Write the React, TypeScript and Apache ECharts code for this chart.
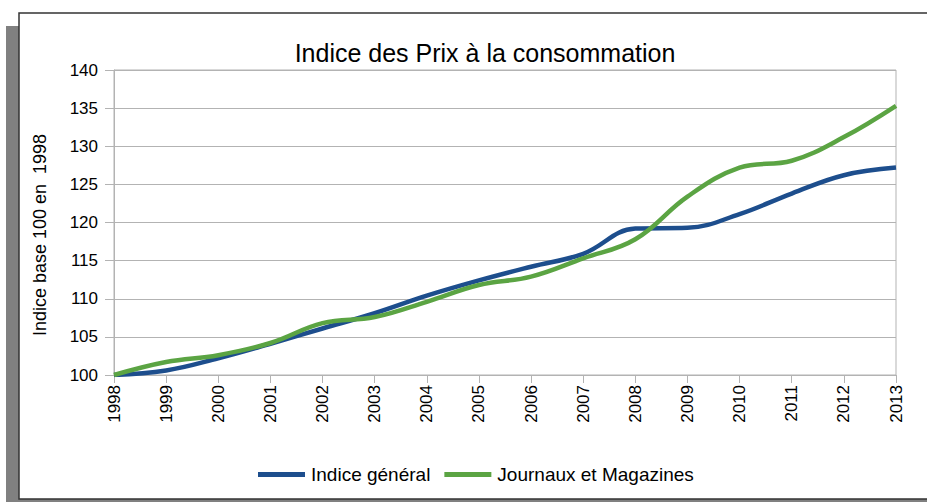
import React, { useEffect, useRef } from "react";
import * as echarts from "echarts";

const years = ["1998","1999","2000","2001","2002","2003","2004","2005","2006","2007","2008","2009","2010","2011","2012","2013"];
const indiceGeneral = [100, 100.6, 102.2, 104.1, 106.1, 108.1, 110.4, 112.4, 114.2, 115.9, 119.2, 119.3, 121.1, 123.8, 126.2, 127.2];
const journauxMagazines = [100, 101.7, 102.6, 104.2, 106.8, 107.6, 109.6, 111.8, 112.9, 115.3, 117.8, 123.4, 127.2, 128.1, 131.2, 135.3];
const titleText = "Indice des Prix à la consommation";
const yAxisTitle = "Indice base 100 en  1998";
const seriesNames = ["Indice général", "Journaux et Magazines"];

const FONT = "'Liberation Sans', Arial, sans-serif";

export default function App() {
  const ref = useRef<HTMLDivElement>(null);
  useEffect(() => {
    if (!ref.current) return;
    const chart = echarts.init(ref.current, null, { renderer: "svg" });
    chart.setOption({
      animation: false,
      backgroundColor: "#ffffff",
      textStyle: { fontFamily: FONT },
      graphic: [
        { type: "rect", z: -100, shape: { x: 6, y: 26, width: 960, height: 500 }, style: { fill: "#808080" } },
        { type: "rect", z: -99, shape: { x: 19, y: 13, width: 960, height: 486 }, style: { fill: "#ffffff", stroke: "#333333", lineWidth: 1.5 } },
        {
          type: "text",
          z: 10,
          x: 40,
          y: 235,
          rotation: Math.PI / 2,
          style: { text: yAxisTitle, fontSize: 18, fontFamily: FONT, fill: "#000", align: "center", verticalAlign: "middle" },
        },
      ],
      title: {
        text: titleText,
        left: 480,
        top: 35,
        textAlign: "center",
        textStyle: { fontSize: 25, fontWeight: "normal", color: "#000", fontFamily: FONT },
      },
      legend: {
        left: 253,
        top: 460,
        icon: "rect",
        itemWidth: 47,
        itemHeight: 5,
        itemGap: 14,
        textStyle: { fontSize: 19, color: "#000", fontFamily: FONT, padding: [0, 0, 0, 1] },
        data: seriesNames,
      },
      grid: {
        left: 114,
        right: 31,
        top: 70,
        bottom: 127,
        show: true,
        borderColor: "#b3b3b3",
        borderWidth: 1,
        backgroundColor: "transparent",
      },
      xAxis: {
        type: "category",
        data: years,
        boundaryGap: false,
        axisLine: { lineStyle: { color: "#b3b3b3", width: 1 } },
        axisTick: { show: true, length: 8, lineStyle: { color: "#b3b3b3" } },
        axisLabel: { rotate: 90, margin: 10, fontSize: 17, color: "#000", fontFamily: FONT },
        splitLine: { show: false },
      },
      yAxis: {
        type: "value",
        min: 100,
        max: 140,
        interval: 5,
        axisLine: { show: true, lineStyle: { color: "#b3b3b3", width: 1 } },
        axisTick: { show: true, length: 9, lineStyle: { color: "#b3b3b3" } },
        axisLabel: { margin: 16, fontSize: 17, color: "#000", fontFamily: FONT },
        splitLine: { show: true, lineStyle: { color: "#b3b3b3", width: 1 } },
      },
      series: [
        {
          name: seriesNames[0],
          type: "line",
          data: indiceGeneral,
          smooth: 0.4,
          showSymbol: false,
          symbol: "none",
          lineStyle: { color: "#1d4e8d", width: 4.5 },
          itemStyle: { color: "#1d4e8d" },
          z: 3,
        },
        {
          name: seriesNames[1],
          type: "line",
          data: journauxMagazines,
          smooth: 0.4,
          showSymbol: false,
          symbol: "none",
          lineStyle: { color: "#5ba443", width: 4.5 },
          itemStyle: { color: "#5ba443" },
          z: 4,
        },
      ],
    });
    return () => chart.dispose();
  }, []);
  return <div ref={ref} style={{ position: "fixed", left: 0, top: 0, width: 927, height: 502 }} />;
}
